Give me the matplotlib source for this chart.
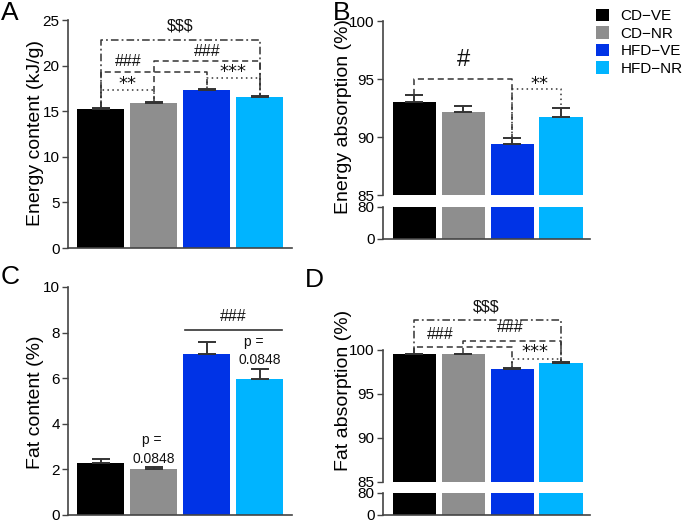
import matplotlib
matplotlib.use("Agg")
import matplotlib.pyplot as plt
from matplotlib.patches import Patch

plt.rcParams['font.family'] = ['Liberation Sans', 'DejaVu Sans']

# ---------------- data ----------------
groups = ['CD\u2212VE', 'CD\u2212NR', 'HFD\u2212VE', 'HFD\u2212NR']
colors = ['#000000', '#8e8e8e', '#0033e6', '#00b4ff']

energy_content = [15.24, 15.86, 17.30, 16.60]
energy_content_sem = [0.08, 0.14, 0.18, 0.08]

energy_absorption = [93.04, 92.18, 89.37, 91.75]
energy_absorption_sem = [0.56, 0.49, 0.52, 0.75]

fat_content = [2.26, 2.01, 7.04, 5.96]
fat_content_sem = [0.18, 0.08, 0.55, 0.46]

fat_absorption = [99.50, 99.50, 97.80, 98.50]
fat_absorption_sem = [0.10, 0.10, 0.12, 0.10]

W, H = 685, 522
fig = plt.figure(figsize=(W / 100, H / 100), dpi=100)

SPINE = '#444444'
LINE = '#333333'
TICKFS = 11
LABFS = 14


def add_ax(x0, x1, ytop, ybot):
    return fig.add_axes([x0 / W, 1 - ybot / H, (x1 - x0) / W, (ybot - ytop) / H])


def style(ax, yticks, ylim, xlim, bottom=True):
    ax.set_ylim(*ylim)
    ax.set_xlim(*xlim)
    ax.set_yticks(yticks)
    ax.set_xticks([])
    for s in ['top', 'right']:
        ax.spines[s].set_visible(False)
    ax.spines['bottom'].set_visible(bottom)
    for s in ['left', 'bottom']:
        ax.spines[s].set_color(SPINE)
        ax.spines[s].set_linewidth(1.2)
    ax.tick_params(axis='y', direction='out', length=4, width=1.0, color=SPINE,
                   labelsize=TICKFS, pad=2)
    ax.patch.set_alpha(0)


def bars(ax, vals, errs, width):
    x = list(range(len(vals)))
    ax.bar(x, vals, width=width, color=colors, edgecolor='none', zorder=2)
    ax.errorbar(x, vals, yerr=[[0] * len(vals), errs], fmt='none', ecolor=LINE,
                elinewidth=1.4, capsize=6.5, capthick=1.4, zorder=3)


def bracket(ax, x1, x2, y, y1, y2, ls):
    ax.plot([x1, x1, x2, x2], [y1, y, y, y2], color=LINE, lw=1.1, ls=ls,
            clip_on=False, zorder=4)


def txt(ax, x, y, s, fs=11.5, family=None):
    kw = {} if family is None else {'family': family}
    ax.text(x, y, s, ha='center', va='center', fontsize=fs, color='#111111',
            clip_on=False, zorder=5, **kw)


def stars(ax, x, y, s):
    txt(ax, x, y, s, 13, ['DejaVu Sans'])


DASH = (0, (4, 2.5))
DOT = (0, (1, 2.2))
DASHDOT = (0, (5, 2, 1.2, 2))

# ---------------- Panel A ----------------
xlimA = (-0.613, 3.604)
axA = add_ax(68, 292, 20, 248)
bars(axA, energy_content, energy_content_sem, 0.887)
style(axA, [0, 5, 10, 15, 20, 25], (0, 25), xlimA)
bracket(axA, 0, 3, 22.8, 15.35, 16.7, DASHDOT)
bracket(axA, 0, 2, 19.3, 15.35, 17.5, DASH)
bracket(axA, 1, 3, 20.5, 16.0, 16.7, DASH)
bracket(axA, 0, 1, 17.3, 15.35, 16.0, DOT)
bracket(axA, 2, 3, 18.6, 17.5, 16.7, DOT)
txt(axA, 1.5, 24.3, '$$$')
txt(axA, 0.52, 20.4, '###')
txt(axA, 2.0, 21.6, '###')
stars(axA, 0.5, 18.0, '**')
stars(axA, 2.5, 19.3, '***')

# ---------------- Panel B ----------------
xlimB = (-0.643, 3.59)
axBt = add_ax(383, 590, 21, 195)
axBb = add_ax(383, 590, 207, 239)
bars(axBt, energy_absorption, energy_absorption_sem, 0.888)
bars(axBb, energy_absorption, energy_absorption_sem, 0.888)
style(axBt, [85, 90, 95, 100], (85, 100), xlimB, bottom=False)
style(axBb, [0, 80], (0, 80), xlimB)
bracket(axBt, 0, 2, 95.0, 93.6, 89.9, DASH)
bracket(axBt, 2, 3, 94.1, 89.9, 92.5, DOT)
txt(axBt, 1.0, 96.6, '#', 17)
stars(axBt, 2.56, 94.6, '**')

# ---------------- Panel C ----------------
axC = add_ax(68, 292, 287, 515)
bars(axC, fat_content, fat_content_sem, 0.887)
style(axC, [0, 2, 4, 6, 8, 10], (0, 10), xlimA)
axC.plot([1.59, 3.42], [8.13, 8.13], color=LINE, lw=1.2, clip_on=False)
txt(axC, 2.5, 8.7, '###')
txt(axC, 0.97, 3.29, 'p =', 10)
txt(axC, 1.0, 2.44, '0.0848', 10)
txt(axC, 2.88, 7.6, 'p =', 10)
txt(axC, 3.0, 6.8, '0.0848', 10)

# ---------------- Panel D ----------------
axDt = add_ax(383, 590, 350, 482)
axDb = add_ax(383, 590, 493, 515)
bars(axDt, fat_absorption, fat_absorption_sem, 0.888)
bars(axDb, fat_absorption, fat_absorption_sem, 0.888)
style(axDt, [85, 90, 95, 100], (85, 100), xlimB, bottom=False)
style(axDb, [0, 80], (0, 80), xlimB)
bracket(axDt, 0, 3, 103.4, 99.6, 98.6, DASHDOT)
bracket(axDt, 0, 2, 100.3, 99.6, 97.9, DASH)
bracket(axDt, 1, 3, 101.06, 99.6, 98.6, DASH)
bracket(axDt, 2, 3, 98.97, 97.9, 98.6, DOT)
txt(axDt, 1.47, 104.9, '$$$')
txt(axDt, 0.52, 101.8, '###')
txt(axDt, 1.95, 102.5, '###')
stars(axDt, 2.46, 99.8, '***')

# ---------------- axis labels ----------------
def ylab(xc, yc, s):
    fig.text(xc / W, 1 - yc / H, s, rotation=90, ha='center', va='center',
             fontsize=LABFS)

ylab(36, 133, 'Energy content (kJ/g)')
ylab(343, 116, 'Energy absorption (%)')
ylab(36, 402, 'Fat content (%)')
ylab(343, 390, 'Fat absorption (%)')

# ---------------- panel letters ----------------
for s, x, y in [('A', 1, 1), ('B', 333, 1), ('C', 1, 265), ('D', 305, 268)]:
    fig.text(x / W, 1 - y / H, s, ha='left', va='top', fontsize=19)

# ---------------- legend ----------------
handles = [Patch(facecolor=c, edgecolor='none') for c in colors]
fig.legend(handles, groups, loc='upper left', bbox_to_anchor=(593 / W, 1 - 6 / H),
           frameon=False, fontsize=11, handlelength=0.85, handleheight=0.85,
           handletextpad=0.75, labelspacing=0.2, borderaxespad=0, borderpad=0.2)

fig.savefig('out.png', dpi=100)
